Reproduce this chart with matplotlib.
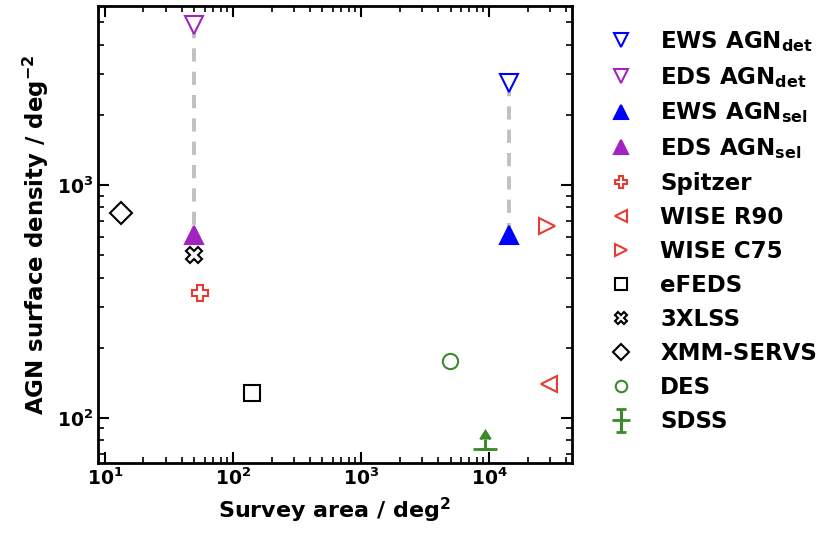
import matplotlib
matplotlib.use("Agg")
import matplotlib.pyplot as plt

plt.rcParams['font.family'] = ['DejaVu Sans']
plt.rcParams['font.weight'] = 'bold'
plt.rcParams['mathtext.default'] = 'bf'

# data (area deg^2, density deg^-2)
ews_det = (14200, 2740)
eds_det = (50, 4870)
ews_sel = (14200, 610)
eds_sel = (50, 610)
spitzer = (55, 344)
wise_r90 = (29500, 140)
wise_c75 = (28500, 667)
efeds = (142, 128)
xlss = (50, 500)
xmm_servs = (13.3, 758)
des = (4930, 176)
sdss = (9230, 73.5)
sdss_err = 7.5

blue = '#0000ff'
purple = '#a025c0'
red = '#e53b33'
green = '#3a8a2a'

fig = plt.figure(figsize=(8.36, 5.34), dpi=100)
ax = fig.add_axes([0.117, 0.133, 0.567, 0.856])

dash = (0, (3.4, 2.6))
ax.plot([eds_det[0], eds_sel[0]], [eds_det[1], eds_sel[1]], ls=dash, color='#c0c0c0', lw=2.8, zorder=1)
ax.plot([ews_det[0], ews_sel[0]], [ews_det[1], ews_sel[1]], ls=dash, color='#c0c0c0', lw=2.8, zorder=1)

ms = 13
kw = dict(ls='none', mew=1.5)
ax.plot(*ews_det, marker='v', mfc='white', mec=blue, ms=ms, label=r'EWS AGN$_{\rm det}$', **kw)
ax.plot(*eds_det, marker='v', mfc='white', mec=purple, ms=ms, label=r'EDS AGN$_{\rm det}$', **kw)
ax.plot(*ews_sel, marker='^', mfc=blue, mec=blue, ms=ms, label=r'EWS AGN$_{\rm sel}$', **kw)
ax.plot(*eds_sel, marker='^', mfc=purple, mec=purple, ms=ms, label=r'EDS AGN$_{\rm sel}$', **kw)
ax.plot(*spitzer, marker='P', mfc='white', mec=red, ms=11, label='Spitzer', **kw)
ax.plot(*wise_r90, marker='<', mfc='white', mec=red, ms=11, label='WISE R90', **kw)
ax.plot(*wise_c75, marker='>', mfc='white', mec=red, ms=11, label='WISE C75', **kw)
ax.plot(*efeds, marker='s', mfc='white', mec='black', ms=11, label='eFEDS', **kw)
ax.plot(*xlss, marker='X', mfc='white', mec='black', ms=11, label='3XLSS', **kw)
ax.plot(*xmm_servs, marker='D', mfc='white', mec='black', ms=11, label='XMM-SERVS', **kw)
ax.plot(*des, marker='o', mfc='white', mec=green, ms=11, label='DES', **kw)
ax.errorbar([sdss[0]], [sdss[1]], yerr=[[0], [sdss_err]], lolims=True, fmt='_', color=green,
            ms=17, mew=2, elinewidth=2.2, capsize=3.8, capthick=2, label='SDSS')

ax.set_xscale('log')
ax.set_yscale('log')
ax.set_xlim(8.8, 44300)
ax.set_ylim(64, 5870)
ax.set_xlabel(r'Survey area / deg$^2$', fontsize=16, fontweight='bold', labelpad=5)
ax.set_ylabel(r'AGN surface density / deg$^{-2}$', fontsize=16.5, fontweight='bold')
ax.tick_params(which='both', direction='in', top=True, right=True, labelsize=13.5)
ax.tick_params(which='major', length=8, width=1.5)
ax.tick_params(which='minor', length=4, width=1.2)
for s in ax.spines.values():
    s.set_linewidth(2)
for lab in ax.get_xticklabels() + ax.get_yticklabels():
    lab.set_fontweight('bold')

leg = ax.legend(loc='upper left', bbox_to_anchor=(1.027, 0.995), frameon=False,
                fontsize=16.5, labelspacing=0.48, handletextpad=1.0, handlelength=1.4,
                markerscale=0.75)
for t in leg.get_texts():
    t.set_fontweight('bold')

fig.savefig('out.png', dpi=100)
